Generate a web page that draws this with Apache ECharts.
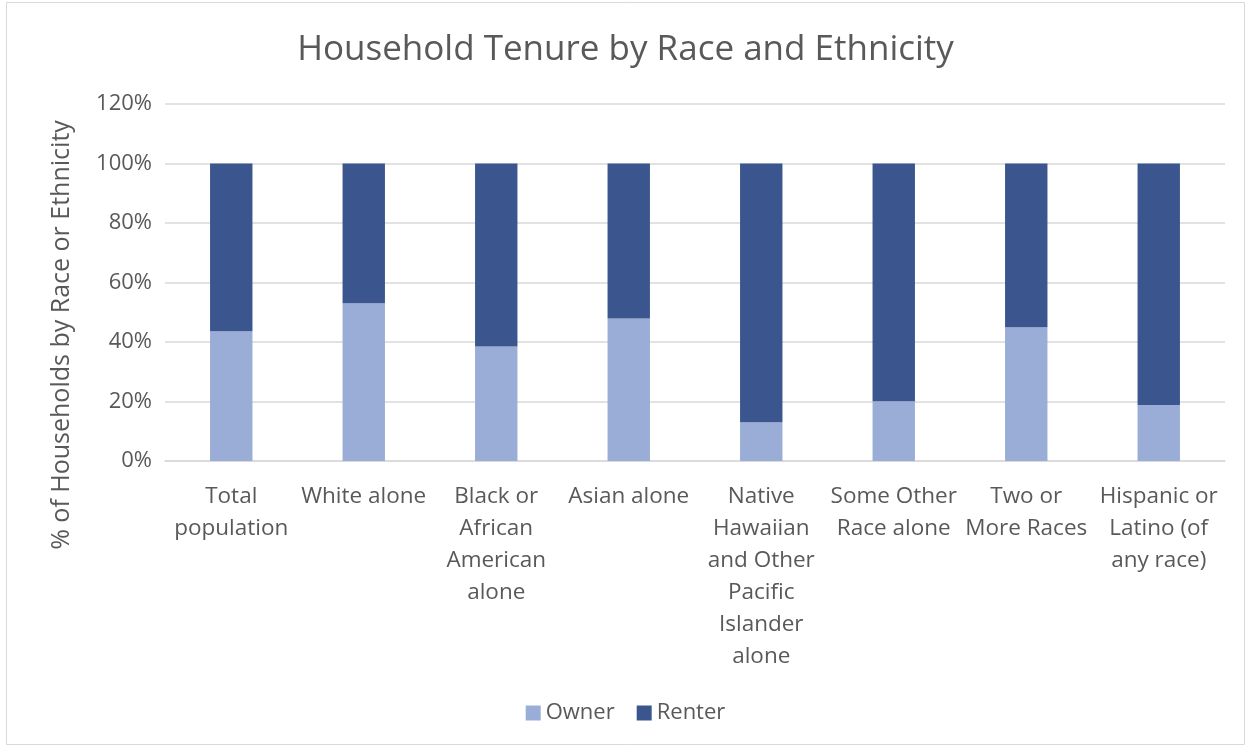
<!DOCTYPE html>
<html><head><meta charset="utf-8">
<script src="https://cdn.jsdelivr.net/npm/echarts@6/dist/echarts.min.js"></script>
<style>html,body{margin:0;padding:0;background:#fff}#c{width:1251px;height:748px}</style>
</head><body><div id="c"></div>
<script>
const categories = ["Total\npopulation","White alone","Black or\nAfrican\nAmerican\nalone","Asian alone","Native\nHawaiian\nand Other\nPacific\nIslander\nalone","Some Other\nRace alone","Two or\nMore Races","Hispanic or\nLatino (of\nany race)"];
const owner = [43.6, 53.0, 38.5, 47.9, 13.0, 20.1, 45.0, 18.8];
const renter = [56.4, 47.0, 61.5, 52.1, 87.0, 79.9, 55.0, 81.2];
const seriesNames = ["Owner","Renter"];
const font = "'Open Sans', 'Noto Sans', sans-serif";
const chart = echarts.init(document.getElementById('c'));
chart.setOption({
  animation:false,
  textStyle:{fontFamily:font,color:'#595959'},
  title:{text:'Household Tenure by Race and Ethnicity',left:'center',top:28,textStyle:{fontFamily:font,fontSize:35,fontWeight:'normal',color:'#595959'}},
  legend:{bottom:19,left:'center',itemWidth:15,itemHeight:15,itemGap:22,icon:'rect',textStyle:{fontFamily:font,fontSize:22,color:'#595959'},data:seriesNames},
  grid:{left:165,right:26,top:104,bottom:287},
  graphic:[
    {type:'rect',shape:{x:6.5,y:2.5,width:1238,height:742},style:{fill:'none',stroke:'#D9D9D9',lineWidth:1}},
    {type:'text',x:62,y:335,rotation:Math.PI/2,style:{text:'% of Households by Race or Ethnicity',fontFamily:font,fontSize:25,fill:'#595959',align:'center',verticalAlign:'middle'}}
  ],
  xAxis:{type:'category',data:categories,axisLine:{lineStyle:{color:'#D9D9D9',width:1.5}},axisTick:{show:false},
    axisLabel:{interval:0,fontFamily:font,fontSize:22.5,color:'#595959',lineHeight:32,margin:20}},
  yAxis:{type:'value',min:0,max:120,interval:20,axisLine:{show:false},axisTick:{show:false},
    axisLabel:{formatter:'{value}%',fontFamily:font,fontSize:22,color:'#595959',margin:13},
    splitLine:{lineStyle:{color:'#D9D9D9',width:1.5}}},
  series:[
    {name:seriesNames[0],type:'bar',stack:'t',data:owner,barWidth:'32%',itemStyle:{color:'#9AADD6'}},
    {name:seriesNames[1],type:'bar',stack:'t',data:renter,barWidth:'32%',itemStyle:{color:'#3B568E'}}
  ]
});
</script></body></html>
